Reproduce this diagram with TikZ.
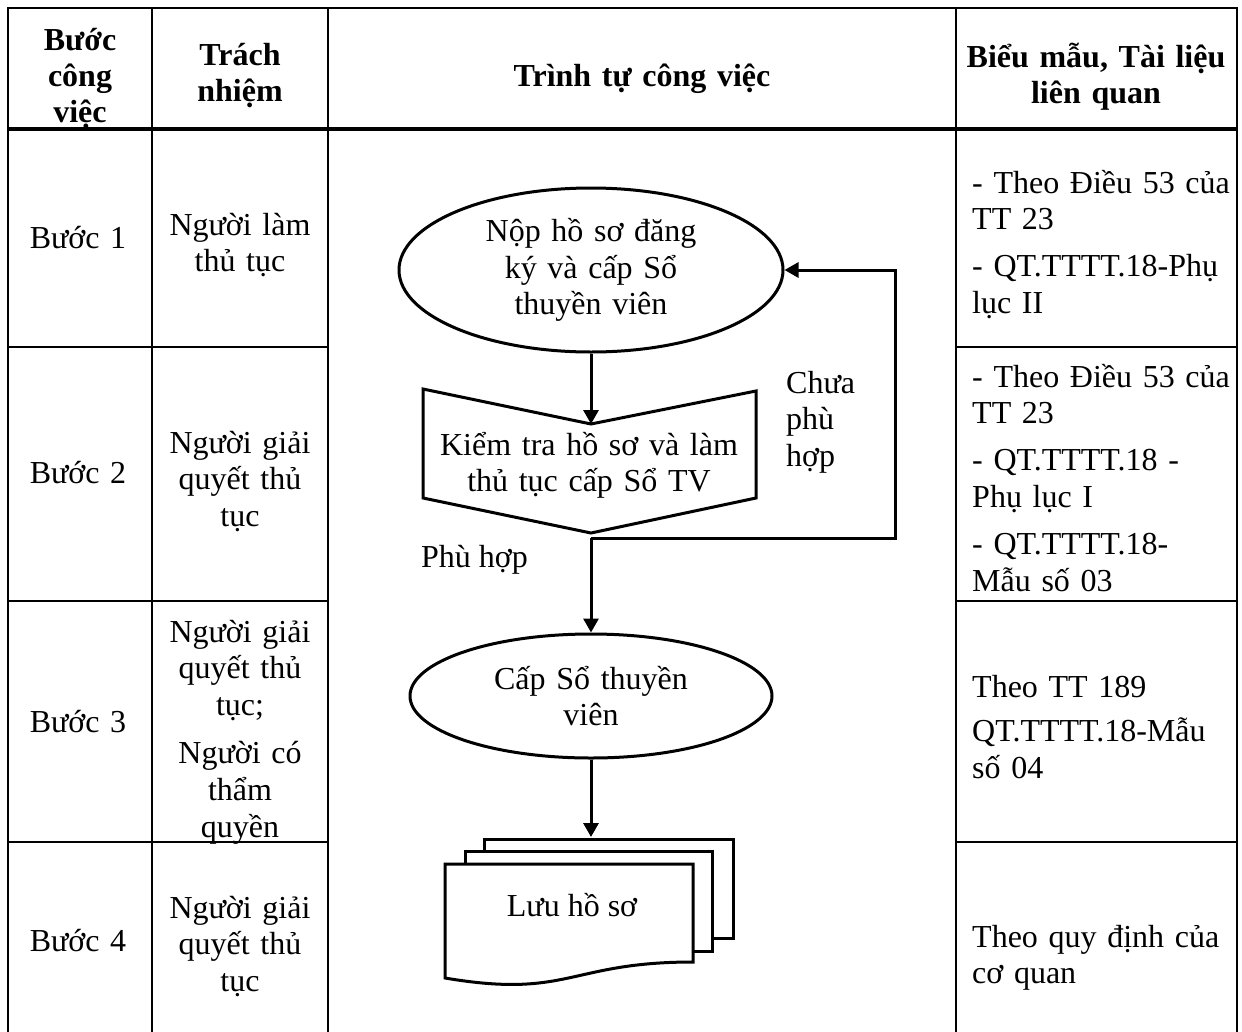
\documentclass[tikz,border=0pt]{standalone}
\usepackage{fontspec}
\setmainfont{Liberation Serif}
\usetikzlibrary{shapes.geometric,arrows.meta}
\begin{document}
\begin{tikzpicture}[x=1pt,y=-1pt,
  every node/.style={font={\fontsize{32}{36.8}\selectfont\lineskiplimit=-100pt}, inner sep=0pt},
  tabline/.style={line width=2.5pt, line cap=rect},
  flow/.style={line width=3pt, line join=miter},
  arr/.style={flow, -{Triangle[length=14pt,width=15pt]}},
  ctext/.style={anchor=base, align=center, text width=#1},
  ltext/.style={anchor=base west, align=left, text width=#1},
  hdr/.style={ctext=#1, font={\fontsize{32}{36}\selectfont\bfseries\lineskiplimit=-100pt}},
]
\useasboundingbox (0,0) rectangle (1242,1031);
\fill[white] (0,0) rectangle (1242,1031);

% table
\draw[tabline] (8,1035) -- (8,8) -- (1237,8) -- (1237,1035);
\draw[tabline] (152,8) -- (152,1035);
\draw[tabline] (328,8) -- (328,1035);
\draw[tabline] (956,8) -- (956,1035);
\draw[line width=3.5pt] (8,129) -- (1237,129);
\foreach \yy in {347,601,842}{
  \draw[tabline] (8,\yy) -- (328,\yy);
  \draw[tabline] (956,\yy) -- (1237,\yy);
}

% header
\node[hdr=140pt] (h1) at (80,50) {Bước\\công\\việc};
\node[hdr=170pt] (h2) at (240,65) {Trách\\nhiệm};
\node[hdr=600pt] (h3) at (642,86) {Trình tự công việc};
\node[hdr=280pt] (h4) at (1096,67) {Biểu mẫu, Tài liệu\\liên quan};

% column 1
\node[ctext=140pt] (s1) at (78,248) {Bước 1};
\node[ctext=140pt] (s2) at (78,483) {Bước 2};
\node[ctext=140pt] (s3) at (78,732) {Bước 3};
\node[ctext=140pt] (s4) at (78,951) {Bước 4};

% column 2
\node[ctext=170pt] (r1) at (240,235) {Người làm\\thủ tục};
\node[ctext=170pt] (r2) at (240,453) {Người giải\\quyết thủ\\tục};
\node[ctext=170pt] (r3) at (240,642) {Người giải\\quyết thủ\\tục;\\[11pt]Người có\\thẩm\\quyền};
\node[ctext=170pt] (r4) at (240,918) {Người giải\\quyết thủ\\tục};

% column 4
\node[ltext=270pt] (d1) at (972,193) {- Theo Điều 53 của\\TT 23\\[10pt]- QT.TTTT.18-Phụ\\lục II};
\node[ltext=270pt] (d2) at (972,387) {- Theo Điều 53 của\\TT 23\\[10pt]- QT.TTTT.18 -\\Phụ lục I\\[10pt]- QT.TTTT.18-\\Mẫu số 03};
\node[ltext=270pt] (d3) at (972,697) {Theo TT 189\\[8pt]QT.TTTT.18-Mẫu\\số 04};
\node[ltext=270pt] (d4) at (972,947) {Theo quy định của\\cơ quan};

% flowchart
\node[flow, draw, ellipse, minimum width=384pt, minimum height=164pt, align=center, text width=230pt] (e1) at (591,270) {Nộp hồ sơ đăng\\ký và cấp Sổ\\thuyền viên};

\coordinate (ptl) at (423,389);
\coordinate (notch) at (591,424);
\coordinate (ptr) at (756,391);
\coordinate (pbr) at (756,498);
\coordinate (tip) at (591,533);
\coordinate (pbl) at (423,498);
\draw[flow] (ptl) -- (notch) -- (ptr) -- (pbr) -- (tip) -- (pbl) -- cycle;
\node[ctext=320pt] (chk) at (589,455) {Kiểm tra hồ sơ và làm\\thủ tục cấp Sổ TV};

\node[flow, draw, ellipse, minimum width=362pt, minimum height=124pt, align=center, text width=200pt] (e2) at (591,696) {Cấp Sổ thuyền\\viên};

\draw[arr] (e1) -- (notch);

\coordinate (split) at (591,538);
\coordinate (fbr) at (895,538);
\coordinate (fbt) at (895,270);
\draw[arr] (split) -- (e2);
\draw[arr] (split) -- (fbr) -- (fbt) -- (e1.east);

\node[ltext=120pt] (no) at (786,393) {Chưa\\phù\\hợp};
\node[anchor=base west] (yes) at (421,567) {Phù hợp};

% documents
\coordinate (doctop) at (591,837);
\draw[arr] (e2) -- (doctop);
\draw[flow, fill=white] (484,839) rectangle (733,938);
\draw[flow, fill=white] (465,851) rectangle (712,951);
\draw[flow, fill=white] (445,864) -- (693,864) -- (693,962) .. controls (569,962) and (569,999) .. (445,978) -- cycle;
\node[anchor=base] (store) at (572,916) {Lưu hồ sơ};
\end{tikzpicture}
\end{document}
